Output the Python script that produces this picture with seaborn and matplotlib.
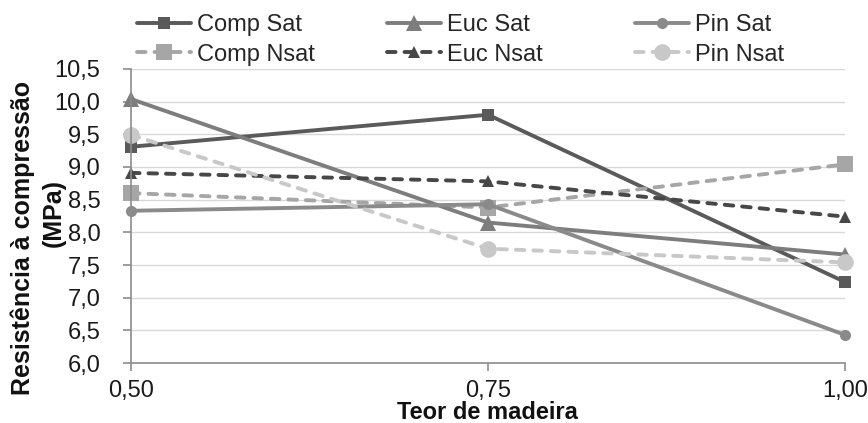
import matplotlib
matplotlib.use("Agg")
import matplotlib.pyplot as plt
import seaborn as sns
import pandas as pd

teor = [0.50, 0.75, 1.00]
x_ticks = ["0,50", "0,75", "1,00"]
comp_sat = [9.31, 9.80, 7.24]
euc_sat = [10.04, 8.15, 7.66]
pin_sat = [8.33, 8.43, 6.43]
comp_nsat = [8.60, 8.38, 9.04]
euc_nsat = [8.91, 8.78, 8.24]
pin_nsat = [9.49, 7.75, 7.54]

sns.set_theme(style="white")
plt.rcParams["font.family"] = ["Liberation Sans", "DejaVu Sans"]

W, H = 868, 423
FS = 17
DASH = (0, (2.2, 2.3))

series = [
    ("Comp Sat", comp_sat, "#5a5a5a", "-", "s", 8),
    ("Comp Nsat", comp_nsat, "#a6a6a6", DASH, "s", 12),
    ("Euc Sat", euc_sat, "#7d7d7d", "-", "^", 11),
    ("Euc Nsat", euc_nsat, "#474747", DASH, "^", 8),
    ("Pin Sat", pin_sat, "#8a8a8a", "-", "o", 8),
    ("Pin Nsat", pin_nsat, "#c8c8c8", DASH, "o", 12),
]

fig = plt.figure(figsize=(W / 100, H / 100), dpi=100)
ax = fig.add_axes([131 / W, 1 - 363 / H, (845 - 131) / W, (363 - 69) / H])

handles = {}
for name, vals, color, ls, mk, ms in series:
    df = pd.DataFrame({"teor": teor, "valor": vals})
    sns.lineplot(data=df, x="teor", y="valor", ax=ax, color=color, linestyle=ls,
                 marker=mk, markersize=ms, linewidth=2.8, markeredgewidth=0,
                 label=name, dashes=False, clip_on=False,
                 dash_capstyle="round", solid_capstyle="round")
    handles[name] = ax.lines[-1]

ax.set_xlim(0.5, 1.0)
ax.set_ylim(6.0, 10.5)
ax.set_xticks(teor)
ax.set_xticklabels(x_ticks)
yt = [6.0 + 0.5 * i for i in range(10)]
ax.set_yticks(yt)
ax.set_yticklabels([f"{v:.1f}".replace(".", ",") for v in yt])
ax.yaxis.grid(True, color="#d9d9d9", linewidth=1)
ax.xaxis.grid(False)
for side in ["top", "right"]:
    ax.spines[side].set_visible(False)
for side in ["left", "bottom"]:
    ax.spines[side].set_color("#8c8c8c")
    ax.spines[side].set_linewidth(1.2)
ax.tick_params(axis="both", which="both", direction="out", length=6, width=1.2,
               color="#8c8c8c", labelsize=FS, labelcolor="#1a1a1a",
               left=True, bottom=True)
ax.tick_params(axis="y", pad=16)
ax.tick_params(axis="x", pad=6)
ax.set_xlabel("")
ax.set_ylabel("")
ax.get_legend().remove()

# axis titles
fig.text(487 / W, 1 - 419 / H, "Teor de madeira", ha="center", va="baseline",
         fontsize=FS, fontweight="bold", color="#111111")
fig.text(23 / W, 1 - 238 / H, "Resistência à compressão", ha="center", va="center",
         rotation=90, fontsize=18, fontweight="bold", color="#111111")
fig.text(54 / W, 1 - 213 / H, "(MPa)", ha="center", va="center",
         rotation=90, fontsize=18, fontweight="bold", color="#111111")

# legend: one block per material, two rows each
columns = [
    (137, ["Comp Sat", "Comp Nsat"]),
    (387, ["Euc Sat", "Euc Nsat"]),
    (635, ["Pin Sat", "Pin Nsat"]),
]
for x0, names in columns:
    fig.legend([handles[n] for n in names], names, loc="center left",
               bbox_to_anchor=(x0 / W, 1 - 40 / H), frameon=False, fontsize=FS,
               handlelength=2.3, handletextpad=0.25, labelspacing=0.3,
               borderaxespad=0, borderpad=0)

fig.savefig("out.png", dpi=100)
